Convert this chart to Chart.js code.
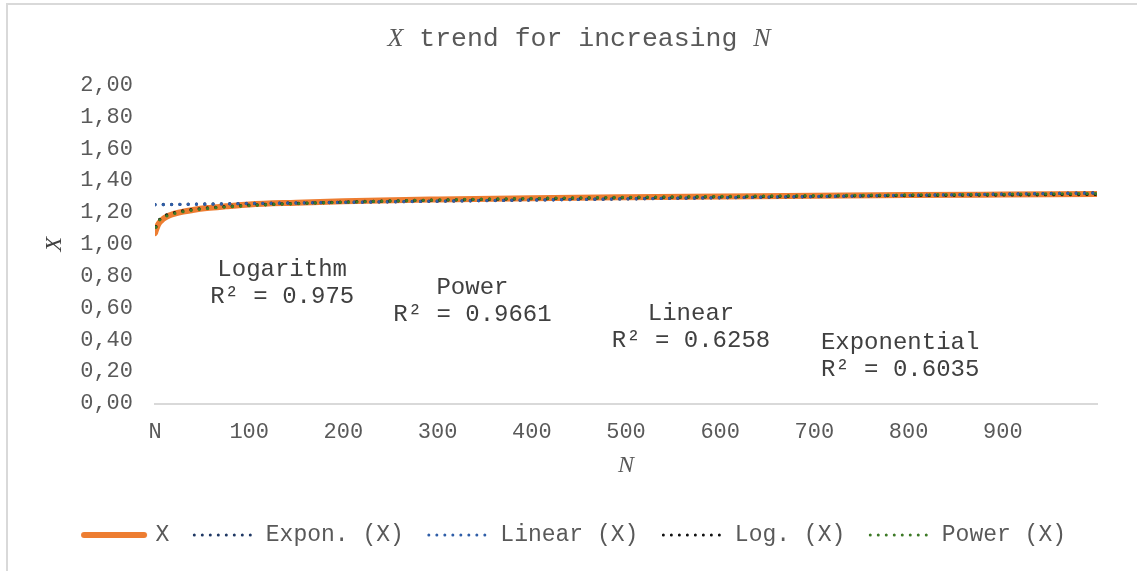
<!DOCTYPE html>
<html><head><meta charset="utf-8">
<script src="https://cdn.jsdelivr.net/npm/chart.js@4/dist/chart.umd.min.js"></script>
<style>html,body{margin:0;padding:0;background:#fff;overflow:hidden}</style>
</head><body>
<canvas id="c" width="1137" height="571"></canvas>
<script>
// ---- data ----
const xN      = [0, 2, 4, 7, 10, 15, 20, 30, 40, 55, 75, 100, 150, 200, 300, 400, 500, 600, 700, 800, 900, 1000];
const xValues = [1.07, 1.105, 1.13, 1.15, 1.165, 1.18, 1.19, 1.205, 1.215, 1.227, 1.238, 1.250, 1.261, 1.270, 1.281, 1.289, 1.295, 1.300, 1.305, 1.309, 1.312, 1.315];
const exponN  = [0, 250, 500, 750, 1000];
const exponV  = [1.249, 1.267, 1.285, 1.303, 1.323];
const linearN = [0, 1000];
const linearV = [1.248, 1.322];
const logN    = [1, 2, 4, 7, 12, 20, 35, 60, 100, 200, 350, 600, 1000];
const logV    = [1.110, 1.130, 1.150, 1.167, 1.183, 1.198, 1.214, 1.230, 1.245, 1.265, 1.282, 1.298, 1.313];
const powerN  = [1, 2, 4, 7, 12, 20, 35, 60, 100, 200, 350, 600, 1000];
const powerV  = [1.107, 1.126, 1.146, 1.162, 1.177, 1.192, 1.210, 1.227, 1.243, 1.264, 1.283, 1.300, 1.318];
const seriesNames = ['X', 'Expon. (X)', 'Linear (X)', 'Log. (X)', 'Power (X)'];
const yTicks = [0, 0.2, 0.4, 0.6, 0.8, 1.0, 1.2, 1.4, 1.6, 1.8, 2.0];
const xTickLabels = ['N', '100', '200', '300', '400', '500', '600', '700', '800', '900', ''];
const trendNames = ['Logarithm', 'Power', 'Linear', 'Exponential'];
const trendR2    = ['R² = 0.975', 'R² = 0.9661', 'R² = 0.6258', 'R² = 0.6035'];

// ---- styling / placement (not data) ----
const MONO = '"Liberation Mono", "Courier New", monospace';
const SERIF = '"Liberation Serif", "DejaVu Serif", serif';
const TEXT = '#595959';
const colors = ['#ED7D31', '#1F3864', '#2F5EA8', '#111111', '#3D7A27'];
const labelAnchors = [[135, 0.838], [337, 0.725], [569, 0.565], [791, 0.38]];

const pts = (ns, vs) => ns.map((n, i) => ({x: n, y: vs[i]}));
const dotted = (label, data, color, order) => ({
  label, data, borderColor: color, backgroundColor: color,
  borderWidth: 3.3, borderDash: [0, 8.3], borderCapStyle: 'round',
  pointRadius: 0, cubicInterpolationMode: 'monotone', order
});

// legend sample for the thick orange series line
const orangeSample = document.createElement('canvas');
orangeSample.width = 68; orangeSample.height = 8;
(function () {
  const c = orangeSample.getContext('2d');
  c.strokeStyle = colors[0]; c.lineWidth = 6; c.lineCap = 'round';
  c.beginPath(); c.moveTo(4, 4); c.lineTo(64, 4); c.stroke();
})();

const chromePlugin = {
  id: 'chrome',
  beforeDraw(chart) {
    const ctx = chart.ctx;
    ctx.save();
    ctx.fillStyle = '#fff';
    ctx.fillRect(0, 0, chart.width, chart.height);
    ctx.strokeStyle = '#D9D9D9';
    ctx.lineWidth = 2;
    ctx.strokeRect(7, 4, 1200, 700);
    ctx.restore();
  },
  afterDraw(chart) {
    const ctx = chart.ctx;
    ctx.save();
    ctx.fillStyle = TEXT;
    ctx.textBaseline = 'middle';
    const parts = [['X', 'italic 26px ' + SERIF], [' trend for increasing ', '26.5px ' + MONO], ['N', 'italic 26px ' + SERIF]];
    let total = 0;
    parts.forEach(p => { ctx.font = p[1]; total += ctx.measureText(p[0]).width; });
    let x = 579 - total / 2;
    parts.forEach(p => { ctx.font = p[1]; ctx.textAlign = 'left'; ctx.fillText(p[0], x, 39); x += ctx.measureText(p[0]).width; });
    // y axis title (rotated)
    const ys = chart.scales.y;
    ctx.save();
    ctx.translate(55, (ys.top + ys.bottom) / 2);
    ctx.rotate(-Math.PI / 2);
    ctx.textAlign = 'center';
    ctx.fillStyle = '#404040';
    ctx.font = 'italic 24px ' + SERIF;
    ctx.fillText('X', 0, 0);
    ctx.restore();
    ctx.restore();
  },
  afterDatasetsDraw(chart) {
    const ctx = chart.ctx;
    const xs = chart.scales.x, ys = chart.scales.y;
    ctx.save();
    ctx.fillStyle = '#404040';
    ctx.font = '24px ' + MONO;
    ctx.textAlign = 'center';
    ctx.textBaseline = 'middle';
    trendNames.forEach((name, i) => {
      const px = xs.getPixelForValue(labelAnchors[i][0]);
      const py = ys.getPixelForValue(labelAnchors[i][1]);
      ctx.fillText(name, px, py);
      ctx.fillText(trendR2[i], px, py + 27);
    });
    ctx.restore();
  }
};

new Chart(document.getElementById('c'), {
  type: 'line',
  data: {
    datasets: [
      {label: seriesNames[0], data: pts(xN, xValues), borderColor: colors[0], backgroundColor: colors[0],
       borderWidth: 6, borderCapStyle: 'round', pointRadius: 0, cubicInterpolationMode: 'monotone', order: 5},
      dotted(seriesNames[1], pts(exponN, exponV), colors[1], 4),
      dotted(seriesNames[2], pts(linearN, linearV), colors[2], 3),
      dotted(seriesNames[3], pts(logN, logV), colors[3], 2),
      dotted(seriesNames[4], pts(powerN, powerV), colors[4], 1)
    ]
  },
  options: {
    responsive: false, animation: false, devicePixelRatio: 1,
    layout: {padding: {top: 85, left: 53, right: 40, bottom: 14.5}},
    plugins: {
      title: {display: false}, tooltip: {enabled: false},
      legend: {
        position: 'bottom',
        labels: {
          font: {family: MONO, size: 23}, color: TEXT, usePointStyle: true, pointStyle: 'line',
          pointStyleWidth: 60, padding: 25,
          generateLabels(chart) {
            return chart.data.datasets.map((ds, i) => ({
              text: ds.label, datasetIndex: i, fillStyle: ds.borderColor, strokeStyle: ds.borderColor,
              lineWidth: 3, lineDash: [0, 8], lineCap: 'round',
              pointStyle: i === 0 ? orangeSample : 'line', hidden: false, fontColor: TEXT
            }));
          }
        }
      }
    },
    scales: {
      x: {
        type: 'linear', min: 0, max: 1000,
        afterFit(s) { s.height = 95; },
        afterBuildTicks(s) { s.ticks = xTickLabels.map((t, i) => ({value: i * 100})); },
        ticks: {font: {family: MONO, size: 22}, color: TEXT, padding: 15, maxRotation: 0, autoSkip: false,
                callback: (v, i) => xTickLabels[i]},
        grid: {display: false, drawTicks: false},
        border: {display: true, color: '#D9D9D9', width: 2},
        title: {display: true, text: 'N', font: {family: SERIF, style: 'italic', size: 24}, color: TEXT, padding: {top: 0, bottom: 18}}
      },
      y: {
        min: 0, max: 2,
        afterFit(s) { s.width = 102; },
        afterBuildTicks(s) { s.ticks = yTicks.map(v => ({value: v})); },
        ticks: {font: {family: MONO, size: 22}, color: TEXT, padding: 22, autoSkip: false,
                callback: v => v.toFixed(2).replace('.', ',')},
        grid: {display: false, drawTicks: false},
        border: {display: false},
        title: {display: false}
      }
    }
  },
  plugins: [chromePlugin]
});
</script>
</body></html>
